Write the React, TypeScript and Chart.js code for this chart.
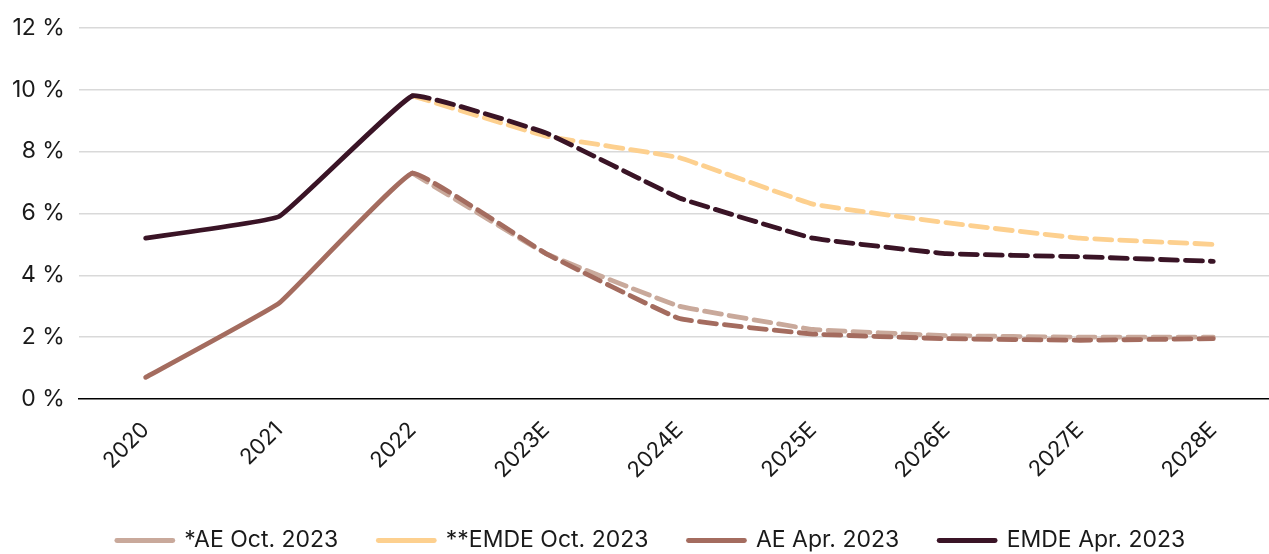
import React, { useEffect, useRef } from "react";
import { Chart, registerables } from "chart.js";

Chart.register(...registerables);

const categories = ["2020", "2021", "2022", "2023E", "2024E", "2025E", "2026E", "2027E", "2028E"];
const aeOct: (number | null)[] = [null, null, 7.3, 4.7, 3.0, 2.25, 2.05, 2.0, 2.0];
const emdeOct: (number | null)[] = [null, null, 9.8, 8.5, 7.8, 6.3, 5.7, 5.2, 5.0];
const aeApr: number[] = [0.7, 3.1, 7.3, 4.7, 2.6, 2.1, 1.95, 1.9, 1.95];
const emdeApr: number[] = [5.2, 5.9, 9.8, 8.6, 6.5, 5.2, 4.7, 4.6, 4.45];
const yTicks = [0, 2, 4, 6, 8, 10, 12];

const FONT = "Inter, 'Noto Sans', sans-serif";
const DASH = [17, 8];

const legendShift = {
  id: "legendShift",
  afterLayout(chart: any) {
    if (chart.legend) {
      chart.legend.left += 12;
      chart.legend.right += 12;
    }
  },
};

export default function App() {
  const ref = useRef<HTMLCanvasElement | null>(null);
  useEffect(() => {
    document.body.style.margin = "0";
    const seg = {
      borderDash: (ctx: any) => (ctx.p0DataIndex >= 2 ? DASH : undefined),
    };
    const mk = (label: string, data: any[], color: string, order: number) => ({
      label,
      data,
      borderColor: color,
      backgroundColor: color,
      borderWidth: 4.8,
      borderCapStyle: "round" as const,
      borderJoinStyle: "round" as const,
      pointRadius: 0,
      pointHoverRadius: 0,
      tension: 0.08,
      fill: false,
      order,
      segment: seg,
    });
    const chart = new Chart(ref.current!, {
      type: "line",
      data: {
        labels: categories,
        datasets: [
          mk("*AE Oct. 2023", aeOct, "#c9a99b", 1),
          mk("**EMDE Oct. 2023", emdeOct, "#fdd08f", 1),
          mk("AE Apr. 2023", aeApr, "#a46c5f", 0),
          mk("EMDE Apr. 2023", emdeApr, "#3a1426", 0),
        ],
      },
      plugins: [legendShift],
      options: {
        animation: false,
        responsive: true,
        maintainAspectRatio: false,
        layout: { padding: { top: 14, left: -2, right: 0, bottom: -8 } },
        plugins: {
          tooltip: { enabled: false },
          legend: {
            position: "bottom",
            labels: {
              sort: (a: any, b: any) => a.datasetIndex - b.datasetIndex,
              generateLabels: (chart: any) =>
                Chart.defaults.plugins.legend.labels
                  .generateLabels(chart)
                  .map((l: any) => ({ ...l, lineDash: [], lineCap: "round" })),
              usePointStyle: true,
              pointStyle: "line",
              pointStyleWidth: 56,
              boxWidth: 56,
              boxHeight: 23,
              padding: 40,
              color: "#1a1a1a",
              font: { family: FONT, size: 23 },
            },
          },
        },
        scales: {
          x: {
            offset: true,
            afterFit: (scale: any) => {
              scale.height = 90;
            },
            grid: { display: false, drawTicks: false },
            border: { display: true, color: "#000", width: 1.5 },
            ticks: {
              color: "#1a1a1a",
              font: { family: FONT, size: 22 },
              maxRotation: 45,
              minRotation: 45,
              padding: 18,
            },
          },
          y: {
            min: 0,
            max: 12,
            afterBuildTicks: (axis: any) => {
              axis.ticks = yTicks.map((v) => ({ value: v }));
            },
            grid: {
              color: (ctx: any) => (ctx.tick && ctx.tick.value === 0 ? "rgba(0,0,0,0)" : "#d9d9d9"),
              lineWidth: 1.5,
              drawTicks: false,
            },
            border: { display: false },
            ticks: {
              color: "#1a1a1a",
              font: { family: FONT, size: 23 },
              padding: 14,
              callback: (v: any) => `${v} %`,
            },
          },
        },
      },
    });
    return () => chart.destroy();
  }, []);
  return (
    <div style={{ width: "1269px", height: "554px", overflow: "hidden" }}>
      <div style={{ width: "1280px", height: "554px", position: "relative" }}>
        <canvas ref={ref} />
      </div>
    </div>
  );
}
